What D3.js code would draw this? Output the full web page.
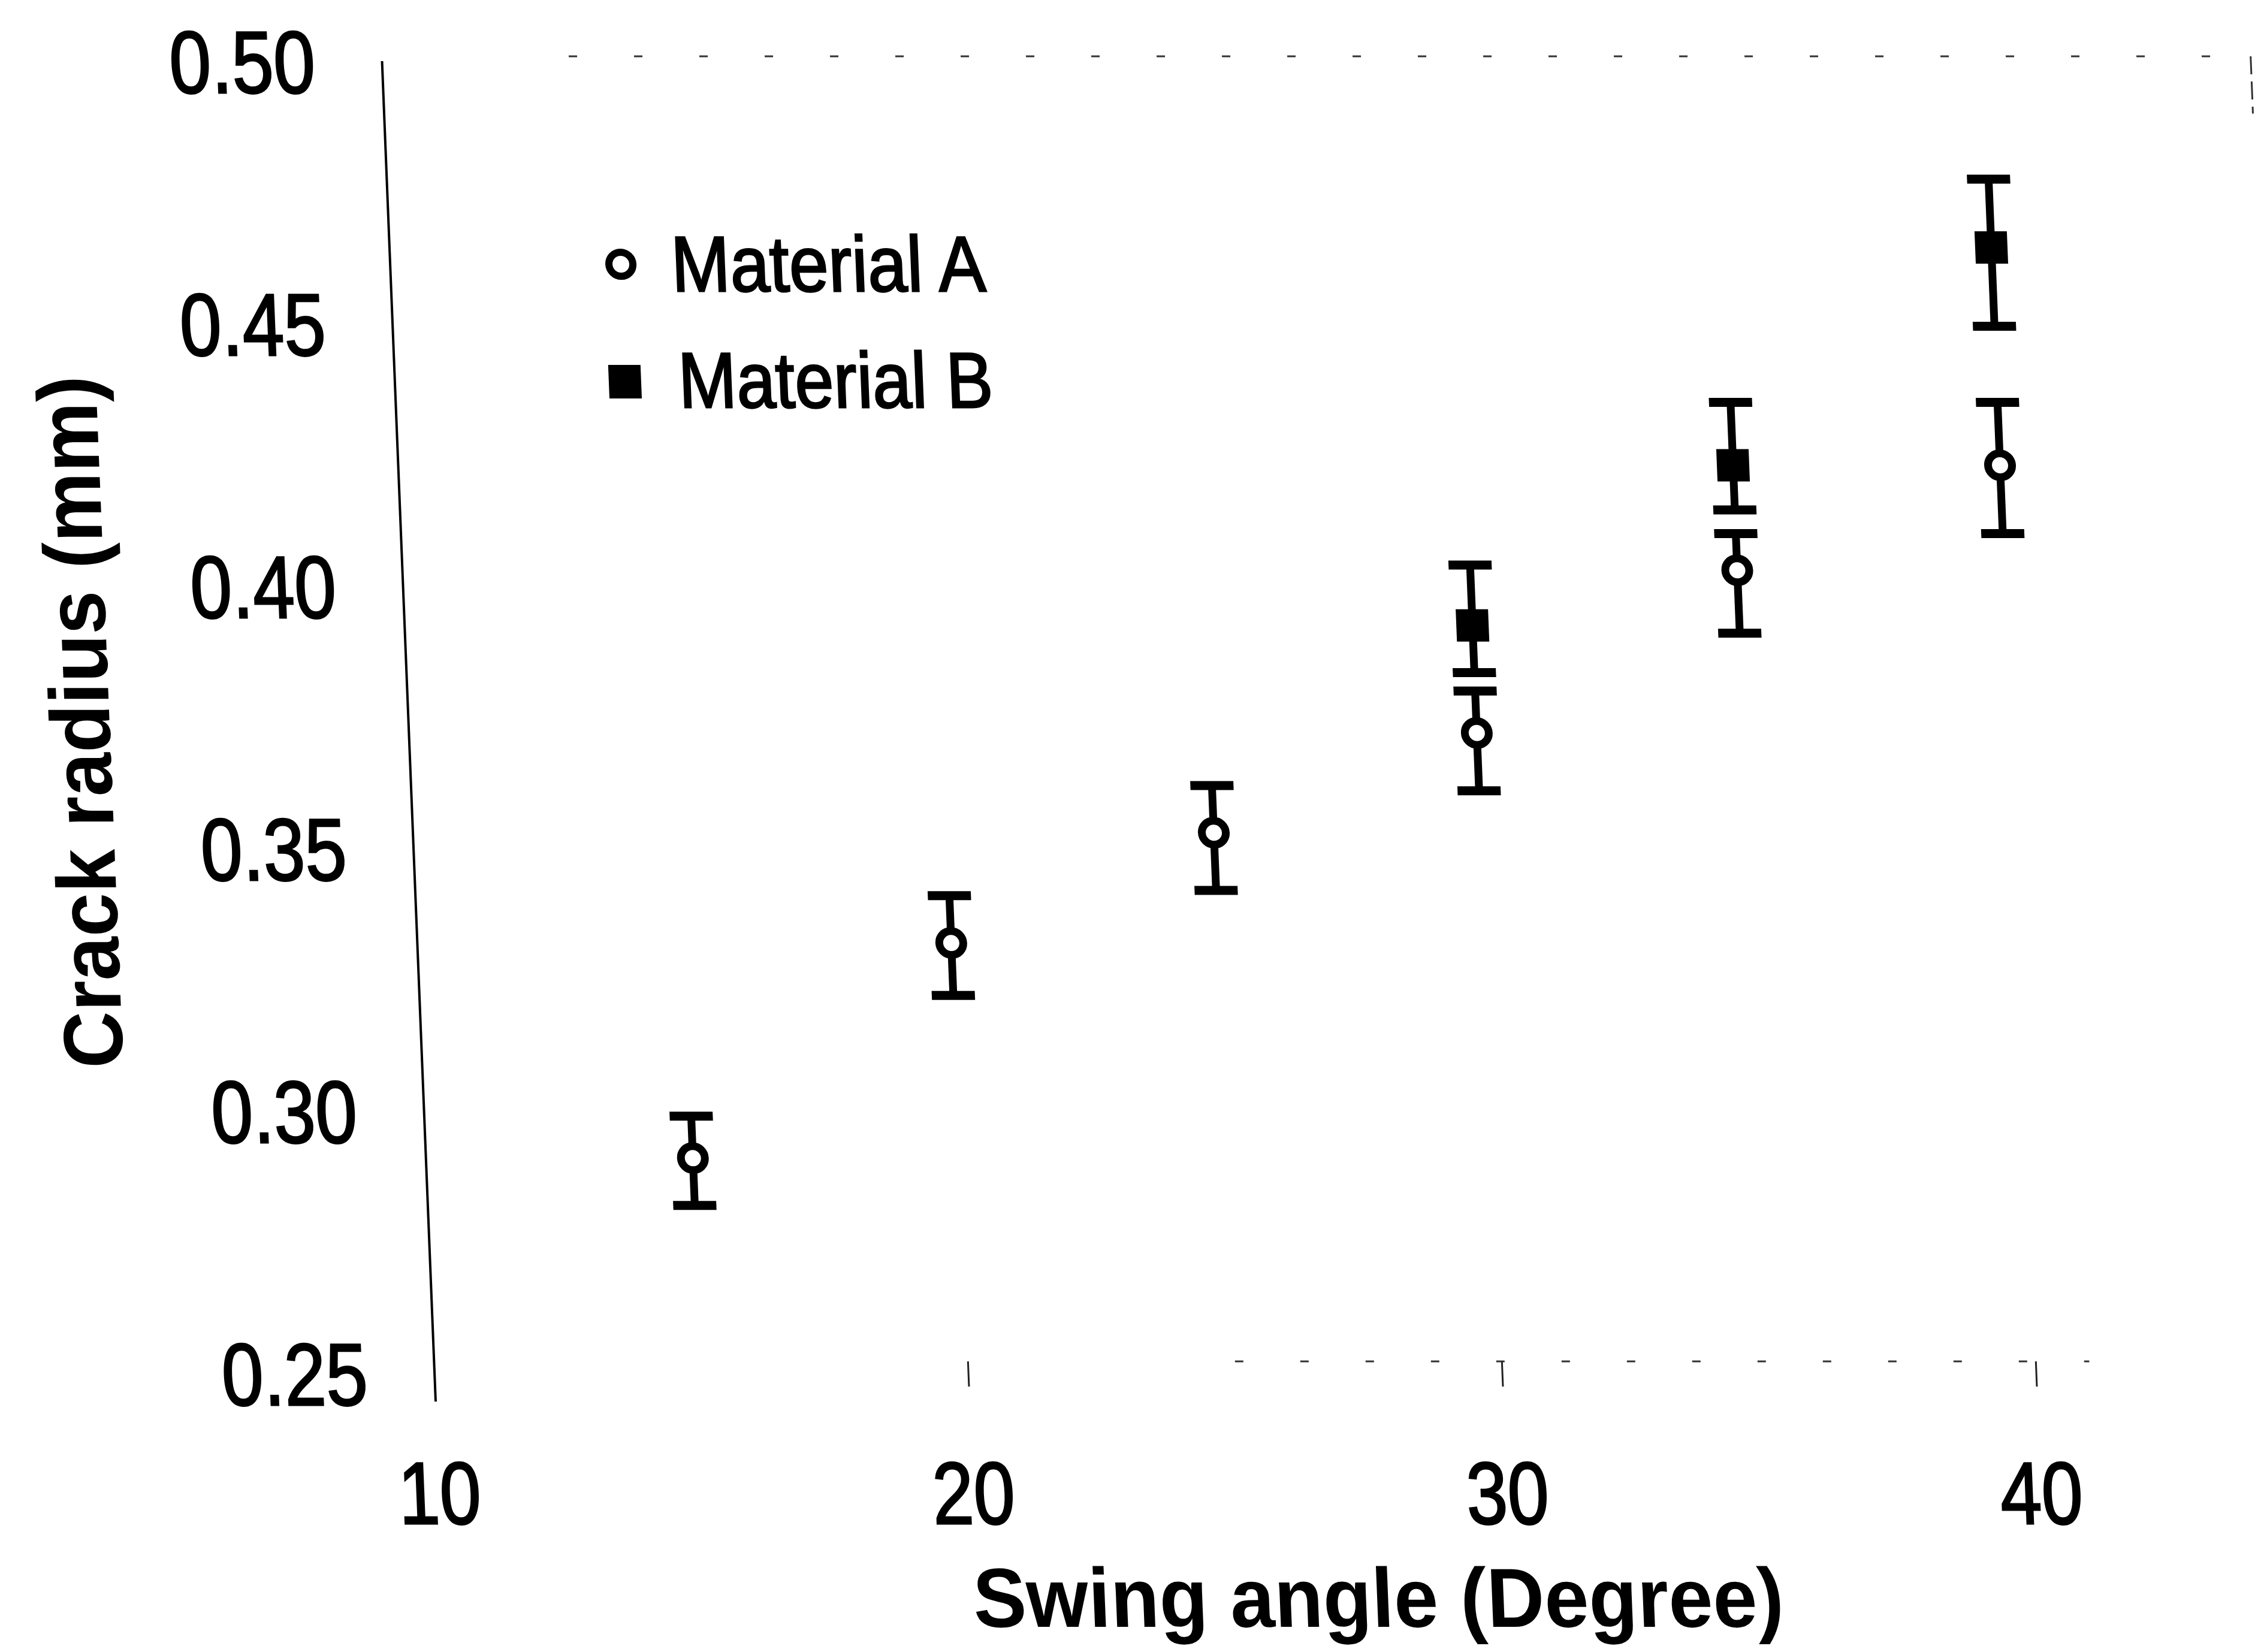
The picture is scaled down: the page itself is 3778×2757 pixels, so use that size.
<!DOCTYPE html>
<html>
<head>
<meta charset="utf-8">
<script src="https://cdn.jsdelivr.net/npm/d3@7"></script>
<style>
  body { margin: 0; background: #fff; }
  text { font-family: "Liberation Sans", Arial, Helvetica, sans-serif; fill: #000; }
</style>
</head>
<body>
<div id="chart"></div>
<script>
// data
var xTicks = [10, 20, 30, 40];
var yTicks = [0.25, 0.30, 0.35, 0.40, 0.45, 0.50];

var anglesA = [15, 20, 25, 30, 35, 40];
var radiusA = [0.291, 0.332, 0.353, 0.372, 0.403, 0.423];
var errUpA = [0.008, 0.009, 0.009, 0.008, 0.007, 0.012];
var errDownA = [0.009, 0.010, 0.011, 0.011, 0.012, 0.013];

var anglesB = [30, 35, 40];
var radiusB = [0.3925, 0.423, 0.4645];
var errUpB = [0.0115, 0.012, 0.013];
var errDownB = [0.009, 0.0085, 0.015];

var W = 3778, H = 2757;

// the scan is slightly sheared: lower parts sit further right
var shear = 0.04, yRef = 2339;

var svg = d3.select("#chart")
  .append("svg")
    .attr("width", W)
    .attr("height", H);

svg.append("rect").attr("width", W).attr("height", H).attr("fill", "#fff");

var g = svg.append("g")
  .attr("transform", "matrix(1,0," + shear + ",1," + (-shear * yRef) + ",0)");

var x = d3.scaleLinear().domain([10, 40]).range([727, 3400]);
var y = d3.scaleLinear().domain([0.25, 0.50]).range([2292, 102]);

// squeeze text horizontally, the printed font is a narrow one
function squeeze(sel, f) {
  sel.each(function() {
    var len = this.getComputedTextLength();
    d3.select(this).attr("textLength", len * f).attr("lengthAdjust", "spacingAndGlyphs");
  });
}

// faint remains of the plot frame (only bits of it printed)
var frame = g.append("g")
  .attr("stroke", "#333")
  .attr("stroke-width", 3)
  .attr("stroke-dasharray", "14 95");
frame.append("line")
  .attr("x1", x(13.5)).attr("x2", x(45))
  .attr("y1", y(0.50) - 8).attr("y2", y(0.50) - 8);
frame.append("line")
  .attr("x1", x(25)).attr("x2", x(41))
  .attr("y1", y(0.25) - 20).attr("y2", y(0.25) - 20);
frame.append("line")
  .attr("x1", x(45)).attr("x2", x(45))
  .attr("y1", y(0.50) - 8).attr("y2", y(0.49))
  .attr("stroke-dasharray", "30 12");

// small tick marks on the bottom
g.selectAll(".xtick")
  .data(xTicks.slice(1))
  .join("line")
    .attr("x1", function(d) { return x(d); })
    .attr("x2", function(d) { return x(d); })
    .attr("y1", y(0.25) - 20)
    .attr("y2", y(0.25) + 22)
    .attr("stroke", "#222")
    .attr("stroke-width", 3);

// y axis
var yAxis = g.append("g")
  .attr("transform", "translate(" + x(10) + ",0)")
  .call(d3.axisLeft(y).tickValues(yTicks).tickSize(0).tickPadding(112).tickFormat(d3.format(".2f")));
yAxis.select(".domain").remove();
yAxis.selectAll("text")
  .attr("dy", "0.36em")
  .style("font-size", "147px")
  .style("font-family", "'Liberation Sans', Arial, sans-serif")
  .style("stroke", "#000")
  .style("stroke-width", "3px")
  .call(squeeze, 0.85);

g.append("line")
  .attr("x1", x(10)).attr("x2", x(10))
  .attr("y1", y(0.50)).attr("y2", y(0.25) + 47)
  .attr("stroke", "#000")
  .attr("stroke-width", 4);

// x axis labels
var xAxis = g.append("g")
  .attr("transform", "translate(0," + y(0.25) + ")")
  .call(d3.axisBottom(x).tickValues(xTicks).tickSize(0).tickPadding(147).tickFormat(d3.format("d")));
xAxis.select(".domain").remove();
xAxis.selectAll("text")
  .style("font-size", "147px")
  .style("font-family", "'Liberation Sans', Arial, sans-serif")
  .style("stroke", "#000")
  .style("stroke-width", "3px")
  .call(squeeze, 0.84);

// axis titles
g.append("text")
  .attr("x", 2287)
  .attr("y", 2715)
  .attr("text-anchor", "middle")
  .style("font-size", "140px")
  .style("font-weight", "bold")
  .text("Swing angle (Degree)")
  .call(squeeze, 0.95);

g.append("text")
  .attr("transform", "translate(228,1205) rotate(-90)")
  .attr("text-anchor", "middle")
  .style("font-size", "140px")
  .style("font-weight", "bold")
  .text("Crack radius (mm)")
  .call(squeeze, 0.94);

// error bars
function errorBars(angles, vals, up, down) {
  var rows = angles.map(function(a, i) {
    return {a: a, v: vals[i], hi: vals[i] + up[i], lo: vals[i] - down[i]};
  });
  var eb = g.append("g").attr("stroke", "#000");
  eb.selectAll(".stem")
    .data(rows)
    .join("line")
      .attr("x1", function(d) { return x(d.a); })
      .attr("x2", function(d) { return x(d.a); })
      .attr("y1", function(d) { return y(d.hi); })
      .attr("y2", function(d) { return y(d.lo); })
      .attr("stroke-width", 13);
  eb.selectAll(".cap")
    .data(rows.flatMap(function(d) { return [{a: d.a, v: d.hi}, {a: d.a, v: d.lo}]; }))
    .join("line")
      .attr("x1", function(d) { return x(d.a) - 36; })
      .attr("x2", function(d) { return x(d.a) + 36; })
      .attr("y1", function(d) { return y(d.v); })
      .attr("y2", function(d) { return y(d.v); })
      .attr("stroke-width", 15);
}
errorBars(anglesA, radiusA, errUpA, errDownA);
errorBars(anglesB, radiusB, errUpB, errDownB);

// markers
g.selectAll(".ptA")
  .data(anglesA)
  .join("circle")
    .attr("cx", function(d) { return x(d); })
    .attr("cy", function(d, i) { return y(radiusA[i]); })
    .attr("r", 20)
    .attr("fill", "#fff")
    .attr("stroke", "#000")
    .attr("stroke-width", 13);

g.selectAll(".ptB")
  .data(anglesB)
  .join("rect")
    .attr("x", function(d) { return x(d) - 27; })
    .attr("y", function(d, i) { return y(radiusB[i]) - 27; })
    .attr("width", 54)
    .attr("height", 54)
    .attr("fill", "#000");

// legend
var legend = g.append("g");
legend.append("circle")
  .attr("cx", 1112).attr("cy", 441).attr("r", 20)
  .attr("fill", "#fff").attr("stroke", "#000").attr("stroke-width", 12);
legend.append("rect")
  .attr("x", 1111 - 27).attr("y", 637 - 28).attr("width", 54).attr("height", 56)
  .attr("fill", "#000");
legend.append("text")
  .attr("x", 1196).attr("y", 486)
  .style("font-size", "131px")
  .style("stroke", "#000")
  .style("stroke-width", "3px")
  .text("Material A")
  .call(squeeze, 0.9);
legend.append("text")
  .attr("x", 1200).attr("y", 680)
  .style("font-size", "131px")
  .style("stroke", "#000")
  .style("stroke-width", "3px")
  .text("Material B")
  .call(squeeze, 0.89);
</script>
</body>
</html>
